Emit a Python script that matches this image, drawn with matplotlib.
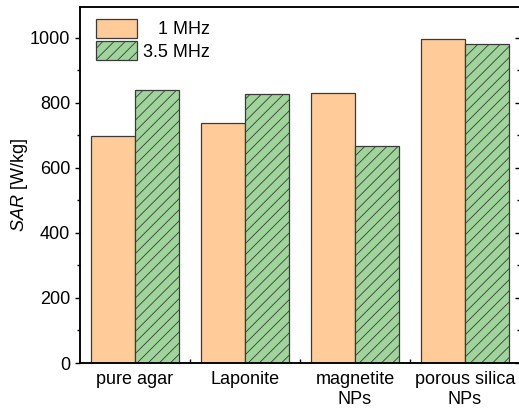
import numpy as np
import matplotlib
matplotlib.use("Agg")
import matplotlib.pyplot as plt
from matplotlib.ticker import MultipleLocator, FixedLocator

plt.rcParams['font.family'] = ['Liberation Sans', 'DejaVu Sans']
plt.rcParams['mathtext.fontset'] = 'custom'
plt.rcParams['mathtext.rm'] = 'Liberation Sans'
plt.rcParams['mathtext.it'] = 'Liberation Sans:italic'
plt.rcParams['hatch.linewidth'] = 0.6
plt.rcParams['hatch.color'] = '#333333'

categories = ["pure agar", "Laponite", "magnetite\nNPs", "porous silica\nNPs"]
sar_1mhz = [697, 737, 830, 998]
sar_35mhz = [840, 827, 666, 981]
series_labels = ["   1 MHz", "3.5 MHz"]

def main():
    fig = plt.figure(figsize=(5.19, 4.09), dpi=100)
    ax = fig.add_axes([80/519, 1 - 363/409, 440/519, 356/409])

    x = np.arange(1, len(categories) + 1)
    w = 0.4
    ax.bar(x - w/2, sar_1mhz, width=w, color='#FFCC99', edgecolor='#3a3a3a',
           linewidth=0.9, label=series_labels[0], zorder=2)
    ax.bar(x + w/2, sar_35mhz, width=w, color='#9FD49B', edgecolor='#3a3a3a',
           linewidth=0.9, hatch='///', label=series_labels[1], zorder=2)

    ax.set_xlim(0.5, 4.5)
    ax.set_ylim(0, 1095)

    ax.set_xticks(x)
    ax.set_xticklabels(categories, fontsize=13)
    ax.xaxis.set_minor_locator(FixedLocator([1.5, 2.5, 3.5]))
    ax.tick_params(axis='x', which='major', length=0, pad=6)
    ax.tick_params(axis='x', which='minor', direction='in', length=3, width=1)

    ax.yaxis.set_major_locator(MultipleLocator(200))
    ax.yaxis.set_minor_locator(MultipleLocator(100))
    ax.tick_params(axis='y', which='major', direction='out', length=3.5, width=1,
                   labelsize=13, pad=3.5)
    ax.tick_params(axis='y', which='minor', direction='out', length=2, width=1)

    ax2 = ax.twinx()
    ax2.set_ylim(ax.get_ylim())
    ax2.yaxis.set_major_locator(MultipleLocator(200))
    ax2.yaxis.set_minor_locator(MultipleLocator(100))
    ax2.tick_params(axis='y', which='major', direction='in', length=3.5, width=1,
                    labelright=False)
    ax2.tick_params(axis='y', which='minor', direction='in', length=2, width=1)

    for a in (ax, ax2):
        for s in a.spines.values():
            s.set_linewidth(1.1)

    ax.set_ylabel(r'$\mathit{SAR}$ [W/kg]', fontsize=13, labelpad=0)

    leg = ax.legend(loc='upper left', bbox_to_anchor=(16/440, 1 - 12/356),
                    frameon=False, fontsize=13, borderpad=0, borderaxespad=0,
                    handlelength=2.28, handleheight=1.2, labelspacing=0.17,
                    handletextpad=0.33)

    fig.savefig("out.png", dpi=100)
    plt.close(fig)

if __name__ == "__main__":
    main()
